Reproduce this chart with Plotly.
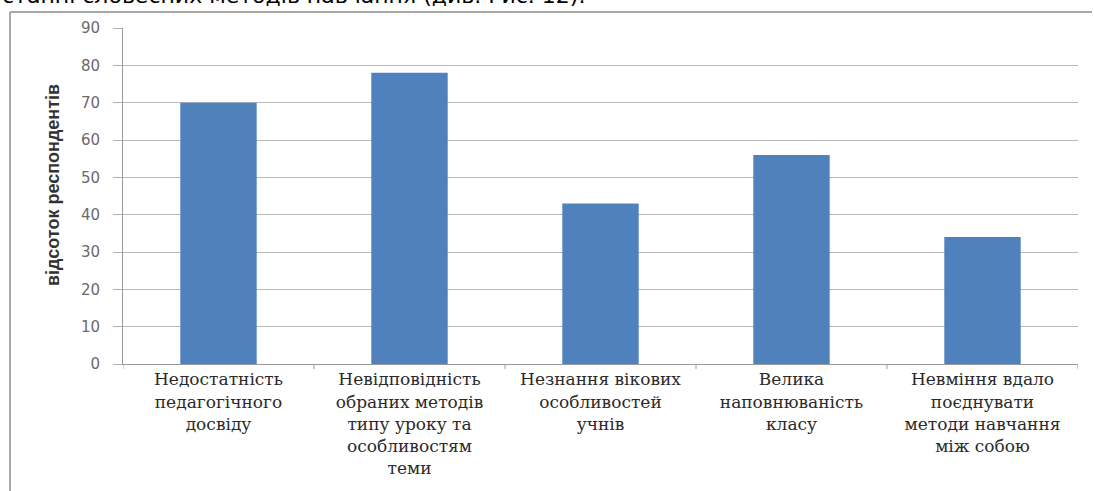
import plotly.graph_objects as go

categories = [
    "Недостатність<br>педагогічного<br>досвіду",
    "Невідповідність<br>обраних методів<br>типу уроку та<br>особливостям<br>теми",
    "Незнання вікових<br>особливостей<br>учнів",
    "Велика<br>наповнюваність<br>класу",
    "Невміння вдало<br>поєднувати<br>методи навчання<br>між собою",
]
values = [70, 78, 43, 56, 34]
y_ticks = [0, 10, 20, 30, 40, 50, 60, 70, 80, 90]
y_title = "відсоток респондентів"
top_text = "станні словесних методів навчання (див. Рис. 12)."

W, H = 1094, 491
L, R, T, B = 123, 16, 28, 127
PW, PH = W - L - R, H - T - B


def px_x(x):
    return (x - L) / PW


def px_y(y):
    return (H - B - y) / PH


fig = go.Figure()
fig.add_trace(go.Bar(
    x=categories, y=values,
    marker=dict(color="#4F81BD", line=dict(width=0)),
    width=0.4,
))

fig.update_layout(
    width=W, height=H,
    margin=dict(l=L, r=R, t=T, b=B, pad=0, autoexpand=False),
    paper_bgcolor="white", plot_bgcolor="white",
    showlegend=False,
    font=dict(family="Liberation Sans"),
)
fig.update_xaxes(
    showline=True, linecolor="#9a9a9a", linewidth=1,
    ticks="", showgrid=False, automargin=False,
    tickfont=dict(family="DejaVu Serif", size=17, color="#2a2a2a"),
    range=[-0.5, 4.5],
)
fig.update_yaxes(
    range=[0, 90], tickvals=y_ticks,
    showgrid=True, gridcolor="#b8b8b8", gridwidth=1,
    showline=True, linecolor="#9a9a9a", linewidth=1,
    ticks="outside", ticklen=9, tickcolor="#b0b0b0",
    ticklabelstandoff=10, automargin=False,
    tickfont=dict(family="DejaVu Sans", size=15, color="#6a6a6a"),
    zeroline=False,
)

# category boundary tick marks on x-axis
for i in range(6):
    fig.add_shape(type="line", xref="x", yref="paper",
                  x0=i - 0.5, x1=i - 0.5, y0=0, y1=px_y(H - B + 5),
                  line=dict(color="#9a9a9a", width=1))

# y-axis title
fig.add_annotation(text="<b>" + y_title + "</b>", xref="paper", yref="paper",
                   x=px_x(53), y=px_y(185), showarrow=False, textangle=-90,
                   xanchor="center", yanchor="middle",
                   font=dict(family="Liberation Sans Narrow, Liberation Sans", size=18, color="#333333"))

# page text cut at top
fig.add_annotation(text=top_text, xref="paper", yref="paper",
                   x=px_x(0), y=px_y(10), showarrow=False,
                   xanchor="left", yanchor="bottom",
                   font=dict(family="DejaVu Sans", size=22, color="black"))

# frame of the embedded chart
fig.add_shape(type="line", xref="paper", yref="paper",
              x0=px_x(10), x1=px_x(1092), y0=px_y(12), y1=px_y(12),
              line=dict(color="#a8a8a8", width=2))
fig.add_shape(type="line", xref="paper", yref="paper",
              x0=px_x(10), x1=px_x(10), y0=px_y(12), y1=px_y(H + 5),
              line=dict(color="#a8a8a8", width=2))

fig.write_html("out.html")
